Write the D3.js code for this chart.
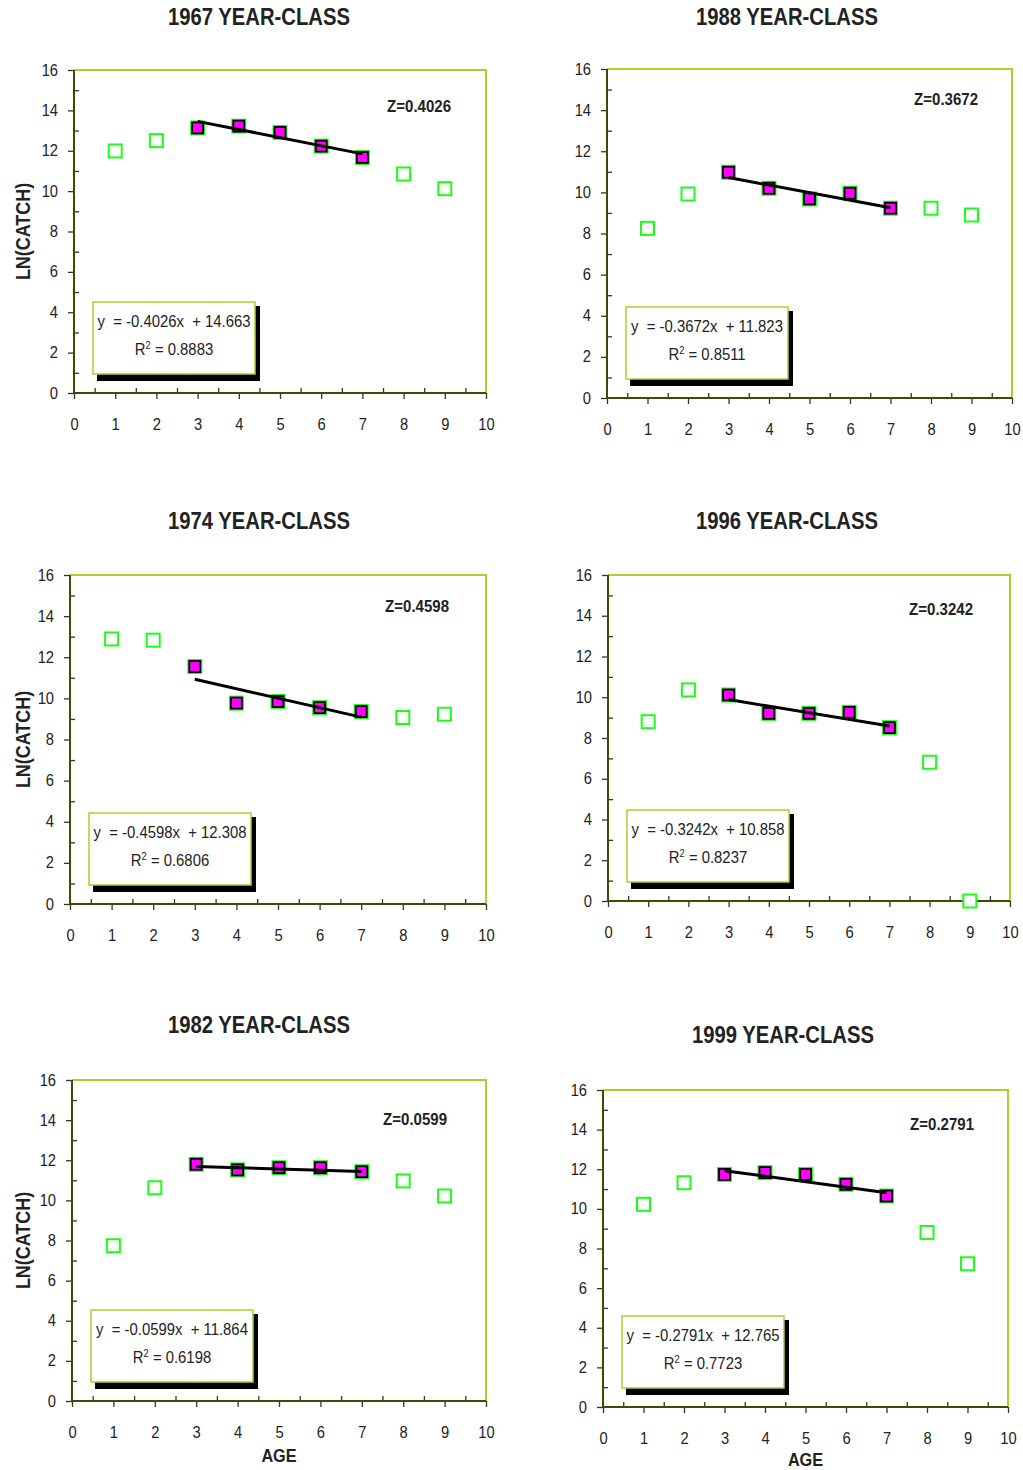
<!DOCTYPE html>
<html>
<head>
<meta charset="utf-8">
<script src="https://cdn.jsdelivr.net/npm/d3@7"></script>
<style>
  body { margin: 0; background: #fff; }
  svg { display: block; }
  text { font-family: "Liberation Sans", Arial, sans-serif; fill: #222; }
</style>
</head>
<body>
<div id="chart"></div>
<script>
// ages on the x axis, catch at age (ln) for each year-class
const ages = [1, 2, 3, 4, 5, 6, 7, 8, 9];
const fitAges = [3, 4, 5, 6, 7];

const catch1967 = [11.99, 12.50, 13.13, 13.22, 12.91, 12.23, 11.67, 10.85, 10.12];
const catch1988 = [8.25, 9.92, 10.98, 10.20, 9.68, 9.96, 9.23, 9.23, 8.90];
const catch1974 = [12.89, 12.83, 11.55, 9.77, 9.85, 9.55, 9.36, 9.07, 9.23];
const catch1996 = [8.80, 10.36, 10.11, 9.21, 9.21, 9.26, 8.51, 6.81, 0.00];
const catch1982 = [7.74, 10.63, 11.80, 11.52, 11.63, 11.63, 11.43, 10.97, 10.22];
const catch1999 = [10.23, 11.32, 11.74, 11.83, 11.74, 11.24, 10.65, 8.81, 7.23];

const yearClasses = ["1967", "1988", "1974", "1996", "1982", "1999"];
const catchSeries = [catch1967, catch1988, catch1974, catch1996, catch1982, catch1999];
const slopes = [-0.4026, -0.3672, -0.4598, -0.3242, -0.0599, -0.2791];
const intercepts = ["14.663", "11.823", "12.308", "10.858", "11.864", "12.765"];
const rSquared = ["0.8883", "0.8511", "0.6806", "0.8237", "0.6198", "0.7723"];

const xTicks = [0, 1, 2, 3, 4, 5, 6, 7, 8, 9, 10];
const yTicks = [0, 2, 4, 6, 8, 10, 12, 14, 16];

// plot boxes on the page
const layout = [
    { left: 74, right: 486, top: 70, bottom: 393, titleX: 259, titleY: 25, zX: 451, zY: 112, yLabel: true, ageY: 0 },
    { left: 607, right: 1012, top: 69, bottom: 398, titleX: 787, titleY: 25, zX: 978, zY: 105, yLabel: false, ageY: 0 },
    { left: 70, right: 486, top: 575, bottom: 904, titleX: 259, titleY: 529, zX: 449, zY: 612, yLabel: true, ageY: 0 },
    { left: 608, right: 1010, top: 575, bottom: 901, titleX: 787, titleY: 529, zX: 973, zY: 615, yLabel: false, ageY: 0 },
    { left: 72, right: 486, top: 1080, bottom: 1401, titleX: 259, titleY: 1033, zX: 447, zY: 1125, yLabel: true, ageY: 1462 },
    { left: 603, right: 1008, top: 1090, bottom: 1407, titleX: 783, titleY: 1043, zX: 974, zY: 1130, yLabel: false, ageY: 1466 }
];

const green = "#1aff1a";
const frame = "#a6d22a";
const axisCol = "#3f4a05";

// the source font is a narrow one, so squeeze the text horizontally
function squeeze(sel, sx, rot) {
    sel.each(function () {
        const t = d3.select(this);
        const x = +t.attr("x") || 0;
        const y = +t.attr("y") || 0;
        t.attr("x", 0).attr("y", 0)
            .attr("transform", `translate(${x},${y})` + (rot ? ` rotate(${rot})` : "") + ` scale(${sx},1)`);
    });
}

const svg = d3.select("#chart")
    .append("svg")
    .attr("width", 1023)
    .attr("height", 1470);

yearClasses.forEach((yc, i) => {
    const L = layout[i];
    const values = catchSeries[i];

    const x = d3.scaleLinear().domain([0, 10]).range([L.left, L.right]);
    const y = d3.scaleLinear().domain([0, 16]).range([L.bottom, L.top]);

    const g = svg.append("g");

    // title
    g.append("text")
        .attr("x", L.titleX)
        .attr("y", L.titleY)
        .attr("text-anchor", "middle")
        .style("font-size", "23px")
        .style("font-weight", "bold")
        .text(yc + " YEAR-CLASS")
        .call(squeeze, 0.88);

    // frame (top and right)
    g.append("path")
        .attr("d", `M${L.left},${L.top}H${L.right}V${L.bottom}`)
        .attr("fill", "none")
        .attr("stroke", frame)
        .attr("stroke-width", 2);

    // minor ticks inside
    const xMinor = d3.axisBottom(x).tickValues(d3.range(0.5, 10, 1)).tickSize(-5).tickFormat("").tickSizeOuter(0);
    const yMinor = d3.axisLeft(y).tickValues(d3.range(1, 16, 2)).tickSize(-5).tickFormat("").tickSizeOuter(0);

    g.append("g").attr("transform", `translate(0,${L.bottom})`).call(xMinor);
    g.append("g").attr("transform", `translate(${L.left},0)`).call(yMinor);

    const xAxis = d3.axisBottom(x).tickValues(xTicks).tickSize(6).tickPadding(20).tickSizeOuter(0);
    const yAxis = d3.axisLeft(y).tickValues(yTicks).tickSize(6).tickPadding(10).tickSizeOuter(0);

    g.append("g").attr("transform", `translate(0,${L.bottom})`).call(xAxis);
    g.append("g").attr("transform", `translate(${L.left},0)`).call(yAxis);

    g.selectAll(".domain").remove();
    g.selectAll(".tick line").attr("stroke", "#333").attr("stroke-width", 1.3);
    g.selectAll(".tick text")
        .attr("fill", "#222")
        .style("font-size", "16px")
        .style("font-family", '"Liberation Sans", Arial, sans-serif')
        .call(squeeze, 0.92);

    // axis lines
    g.append("line")
        .attr("x1", L.left).attr("x2", L.right)
        .attr("y1", L.bottom).attr("y2", L.bottom)
        .attr("stroke", axisCol).attr("stroke-width", 2);
    g.append("line")
        .attr("x1", L.left).attr("x2", L.left)
        .attr("y1", L.top).attr("y2", L.bottom)
        .attr("stroke", axisCol).attr("stroke-width", 2);

    // axis titles
    if (L.yLabel) {
        g.append("text")
            .attr("x", 30)
            .attr("y", (L.top + L.bottom) / 2)
            .attr("text-anchor", "middle")
            .style("font-size", "19.5px")
            .style("font-weight", "bold")
            .text("LN(CATCH)")
            .call(squeeze, 0.92, -90);
    }
    if (L.ageY) {
        g.append("text")
            .attr("x", (L.left + L.right) / 2)
            .attr("y", L.ageY)
            .attr("text-anchor", "middle")
            .style("font-size", "18.5px")
            .style("font-weight", "bold")
            .text("AGE")
            .call(squeeze, 0.88);
    }

    // Z value
    g.append("text")
        .attr("x", L.zX)
        .attr("y", L.zY)
        .attr("text-anchor", "end")
        .style("font-size", "16px")
        .style("font-weight", "bold")
        .text("Z=" + (-slopes[i]).toFixed(4))
        .call(squeeze, 0.94);

    // trendline equation box
    const bx = L.left + 19, bw = 162, bh = 72, by = L.bottom - 19 - bh;
    g.append("rect")
        .attr("x", bx + 4).attr("y", by + 4)
        .attr("width", bw + 1).attr("height", bh + 3)
        .attr("fill", "#000");
    g.append("rect")
        .attr("x", bx).attr("y", by)
        .attr("width", bw).attr("height", bh)
        .attr("fill", "#fff")
        .attr("stroke", frame)
        .attr("stroke-width", 1.5);
    g.append("text")
        .attr("x", bx + bw / 2)
        .attr("y", by + 25)
        .attr("text-anchor", "middle")
        .style("font-size", "16px")
        .style("white-space", "pre")
        .text("y  = " + slopes[i].toFixed(4) + "x  + " + intercepts[i])
        .call(squeeze, 0.93);
    const r2 = g.append("text")
        .attr("x", bx + bw / 2)
        .attr("y", by + 53)
        .attr("text-anchor", "middle")
        .style("font-size", "16px");
    r2.append("tspan").text("R");
    r2.append("tspan").attr("dy", -6).style("font-size", "10px").text("2");
    r2.append("tspan").attr("dy", 6).text(" = " + rSquared[i]);
    r2.call(squeeze, 0.93);

    const pts = ages.map((a, k) => ({ age: a, v: values[k], fit: fitAges.includes(a) }));

    // open markers (not used in fit)
    g.selectAll(".open")
        .data(pts.filter(d => !d.fit))
        .join("rect")
        .attr("class", "open")
        .attr("x", d => x(d.age) - 6.5)
        .attr("y", d => y(d.v) - 6.5)
        .attr("width", 13).attr("height", 13)
        .attr("fill", "#fff")
        .attr("stroke", green)
        .attr("stroke-width", 2);

    // filled markers
    const fitPts = pts.filter(d => d.fit);
    g.selectAll(".fitOuter")
        .data(fitPts)
        .join("rect")
        .attr("class", "fitOuter")
        .attr("x", d => x(d.age) - 7.5)
        .attr("y", d => y(d.v) - 7.5)
        .attr("width", 15).attr("height", 15)
        .attr("fill", green);
    g.selectAll(".fitInner")
        .data(fitPts)
        .join("rect")
        .attr("class", "fitInner")
        .attr("x", d => x(d.age) - 5.5)
        .attr("y", d => y(d.v) - 5.5)
        .attr("width", 11).attr("height", 11)
        .attr("fill", "#ff00ff")
        .attr("stroke", "#000")
        .attr("stroke-width", 1.8);

    // regression line
    const a0 = fitAges[0], a1 = fitAges[fitAges.length - 1];
    const b = +intercepts[i];
    g.append("line")
        .attr("x1", x(a0)).attr("y1", y(slopes[i] * a0 + b))
        .attr("x2", x(a1)).attr("y2", y(slopes[i] * a1 + b))
        .attr("stroke", "#000")
        .attr("stroke-width", 3);
});
</script>
</body>
</html>
